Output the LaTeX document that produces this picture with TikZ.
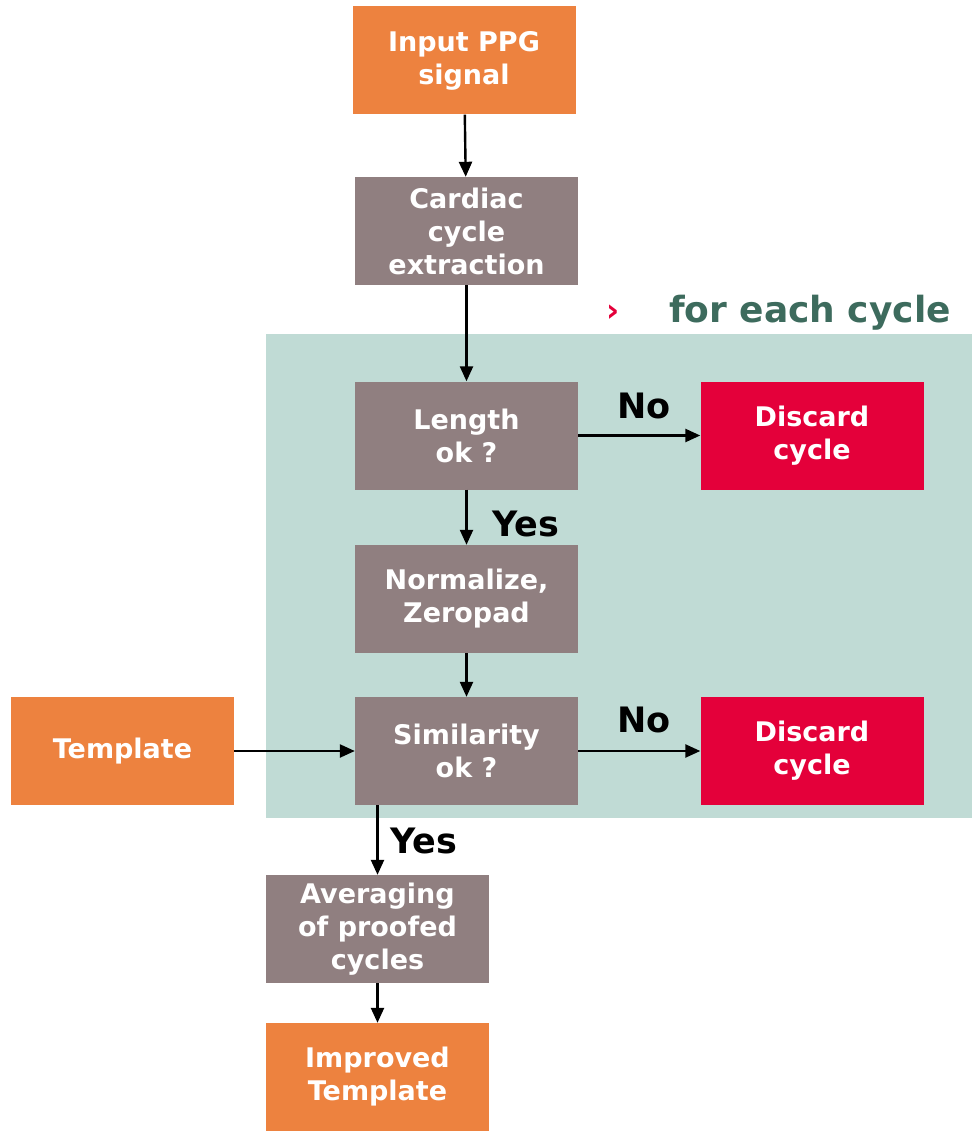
\documentclass[tikz,border=0pt]{standalone}
\usepackage{fontspec}
\setmainfont{DejaVu Sans}
\usetikzlibrary{arrows.meta}

\definecolor{inorange}{HTML}{ED823F}
\definecolor{stepgray}{HTML}{907F80}
\definecolor{loopteal}{HTML}{C0DBD5}
\definecolor{discardred}{HTML}{E4003A}
\definecolor{loopgreen}{HTML}{3D6B5D}

\begin{document}
\begin{tikzpicture}[x=1pt,y=-1pt,
    box/.style={minimum width=223pt,minimum height=108pt,inner sep=0pt,
      align=center,text=white,font=\fontsize{27}{33}\selectfont\bfseries},
    iobox/.style={box,fill=inorange},
    stepbox/.style={box,fill=stepgray},
    dropbox/.style={box,fill=discardred},
    answer/.style={font=\fontsize{35}{40}\selectfont\bfseries},
    flow/.style={line width=2.4pt,-{Triangle[length=15pt,width=13pt]}}]
  \useasboundingbox (0,0) rectangle (972,1131);

  % loop area
  \fill[loopteal] (266,334) rectangle (972,818);
  \node[text=discardred,font=\fontsize{32}{32}\selectfont\bfseries] (mark) at (613,313) {›};
  \node[text=loopgreen,font=\fontsize{36}{40}\selectfont\bfseries] (loop) at (810,313) {for each cycle};

  \node[iobox] (input) at (464,60.5) {Input PPG\\signal};
  \node[stepbox] (cycles) at (466.5,231) {Cardiac\\cycle\\extraction};
  \node[stepbox] (length) at (466.5,435.5) {Length\\ok ?};
  \node[dropbox] (dropA) at (812,435.5) {Discard\\cycle};
  \node[stepbox] (norm) at (466.5,599) {Normalize,\\Zeropad};
  \node[stepbox] (simil) at (466.5,751) {Similarity\\ok ?};
  \node[dropbox] (dropB) at (812,751) {Discard\\cycle};
  \node[iobox] (templ) at (122.5,751) {Template};
  \node[stepbox] (avg) at (377.5,929) {Averaging\\of proofed\\cycles};
  \node[iobox] (improved) at (377.5,1077) {Improved\\Template};

  \draw[flow] (input) -- (cycles);
  \draw[flow] (cycles) -- (length);
  \draw[flow] (length) -- (dropA);
  \draw[flow] (length) -- (norm);
  \draw[flow] (norm) -- (simil);
  \draw[flow] (templ) -- (simil);
  \draw[flow] (simil) -- (dropB);
  \draw[flow] (simil.south -| avg.north) -- (avg.north);
  \draw[flow] (avg) -- (improved);

  \node[answer] (noA) at (644,406) {No};
  \node[answer] (yesA) at (526,524) {Yes};
  \node[answer] (noB) at (644,720) {No};
  \node[answer] (yesB) at (424,841) {Yes};
\end{tikzpicture}
\end{document}
